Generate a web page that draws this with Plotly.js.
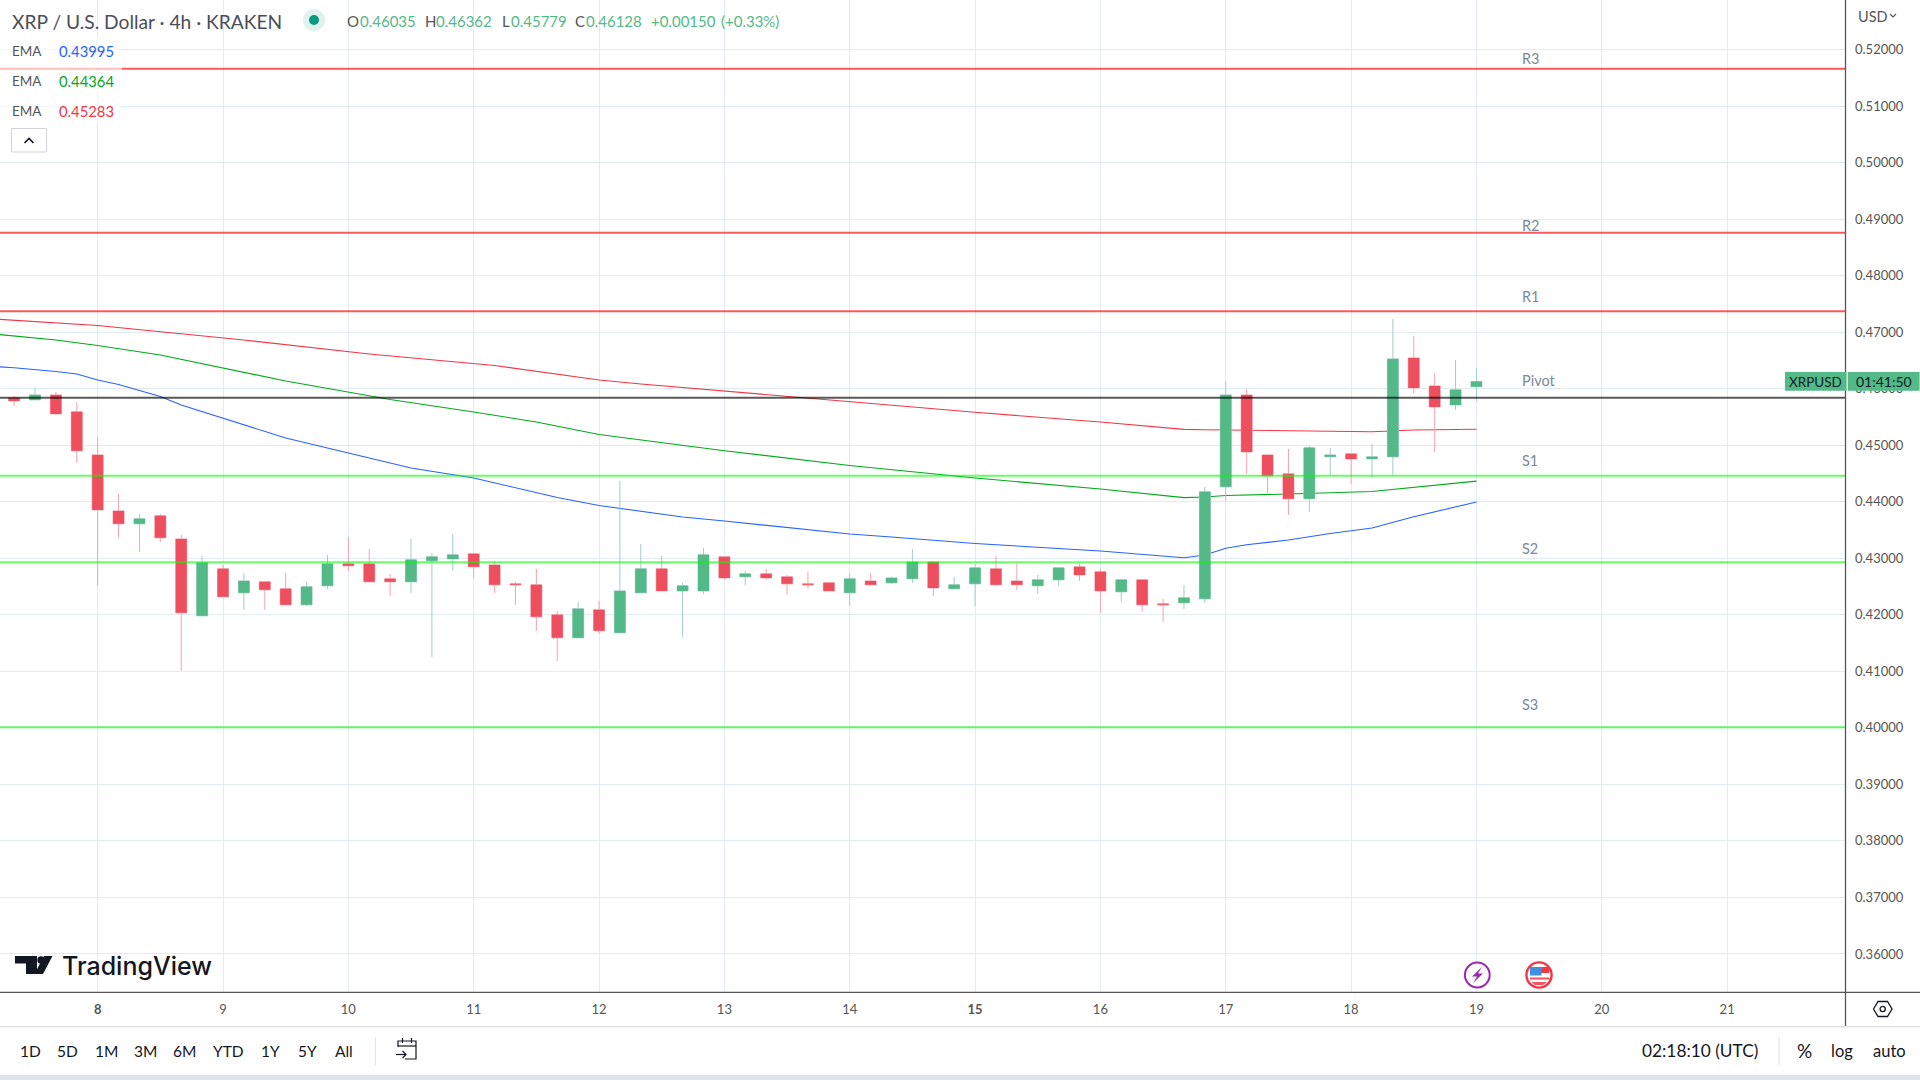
<!DOCTYPE html>
<html><head><meta charset="utf-8">
<script src="https://cdn.plot.ly/plotly-3.0.1.min.js"></script>
<style>html,body{margin:0;padding:0;background:#fff;overflow:hidden}#c{width:1920px;height:1080px}</style>
</head><body><div id="c"></div>
<script>
const times=["2023-06-07 08:00","2023-06-07 12:00","2023-06-07 16:00","2023-06-07 20:00",
"2023-06-08 00:00","2023-06-08 04:00","2023-06-08 08:00","2023-06-08 12:00","2023-06-08 16:00","2023-06-08 20:00",
"2023-06-09 00:00","2023-06-09 04:00","2023-06-09 08:00","2023-06-09 12:00","2023-06-09 16:00","2023-06-09 20:00",
"2023-06-10 00:00","2023-06-10 04:00","2023-06-10 08:00","2023-06-10 12:00","2023-06-10 16:00","2023-06-10 20:00",
"2023-06-11 00:00","2023-06-11 04:00","2023-06-11 08:00","2023-06-11 12:00","2023-06-11 16:00","2023-06-11 20:00",
"2023-06-12 00:00","2023-06-12 04:00","2023-06-12 08:00","2023-06-12 12:00","2023-06-12 16:00","2023-06-12 20:00",
"2023-06-13 00:00","2023-06-13 04:00","2023-06-13 08:00","2023-06-13 12:00","2023-06-13 16:00","2023-06-13 20:00",
"2023-06-14 00:00","2023-06-14 04:00","2023-06-14 08:00","2023-06-14 12:00","2023-06-14 16:00","2023-06-14 20:00",
"2023-06-15 00:00","2023-06-15 04:00","2023-06-15 08:00","2023-06-15 12:00","2023-06-15 16:00","2023-06-15 20:00",
"2023-06-16 00:00","2023-06-16 04:00","2023-06-16 08:00","2023-06-16 12:00","2023-06-16 16:00","2023-06-16 20:00",
"2023-06-17 00:00","2023-06-17 04:00","2023-06-17 08:00","2023-06-17 12:00","2023-06-17 16:00","2023-06-17 20:00",
"2023-06-18 00:00","2023-06-18 04:00","2023-06-18 08:00","2023-06-18 12:00","2023-06-18 16:00","2023-06-18 20:00",
"2023-06-19 00:00"];
const opens=[.45837,.45802,.45890,.45590,.44829,.43838,.43609,.43750,.43343,.41981,.42813,.42388,.42583,.42459,.42176,.42512,.42901,.42901,.42636,.42583,.42954,.42989,.43078,.42883,.42547,.42530,.41999,.41592,.42087,.41681,.42388,.42813,.42423,.42423,.43025,.42671,.42724,.42671,.42547,.42565,.42388,.42600,.42565,.42636,.42936,.42459,.42547,.42813,.42600,.42512,.42618,.42848,.42760,.42406,.42618,.42194,.42211,.42282,.44263,.45890,.44829,.44493,.44051,.44794,.44847,.44758,.44794,.46545,.46049,.45713,.46035];
const highs=[.45873,.46014,.45943,.45766,.45147,.44139,.43785,.43785,.43414,.43043,.42883,.42742,.42583,.42742,.42583,.43060,.43379,.43166,.42724,.43343,.43096,.43432,.43078,.42954,.42583,.42813,.42070,.42229,.42247,.44369,.43255,.43043,.42565,.43184,.43025,.42777,.42813,.42706,.42760,.42565,.42742,.42742,.42671,.43166,.42954,.42671,.42901,.43043,.42919,.42706,.42830,.42901,.42813,.42618,.42618,.42282,.42530,.44263,.46138,.45996,.44829,.44935,.44988,.44953,.44847,.45024,.47235,.46934,.46279,.46509,.46362];
const lows=[.45696,.45802,.45537,.44688,.42512,.43361,.43113,.43290,.41008,.41981,.42317,.42087,.42087,.42176,.42158,.42459,.42777,.42583,.42335,.42388,.41256,.42777,.42653,.42388,.42176,.41716,.41185,.41592,.41663,.41681,.42388,.42423,.41610,.42370,.42618,.42530,.42618,.42353,.42459,.42423,.42158,.42530,.42547,.42565,.42335,.42459,.42158,.42512,.42441,.42370,.42512,.42600,.42034,.42229,.42052,.41875,.42105,.42211,.44015,.44493,.44157,.43768,.43821,.44475,.44316,.44422,.44475,.45908,.44882,.45625,.45779];
const closes=[.45784,.45890,.45554,.44900,.43856,.43609,.43697,.43361,.42034,.42919,.42317,.42600,.42441,.42176,.42494,.42901,.42866,.42583,.42583,.42972,.43025,.43060,.42848,.42530,.42530,.41964,.41592,.42105,.41716,.42423,.42813,.42423,.42512,.43060,.42653,.42724,.42653,.42547,.42530,.42423,.42636,.42530,.42653,.42936,.42476,.42530,.42830,.42530,.42530,.42618,.42830,.42706,.42423,.42618,.42176,.42176,.42300,.44175,.45890,.44882,.44458,.44051,.44953,.44829,.44758,.44794,.46527,.46014,.45678,.45979,.46128];

const blueTimes=["2023-06-07 04:00","2023-06-07 08:00","2023-06-07 16:00","2023-06-07 20:00","2023-06-08 00:00","2023-06-08 04:00","2023-06-08 12:00","2023-06-08 16:00","2023-06-09 12:00","2023-06-10 12:00","2023-06-11 00:00","2023-06-11 16:00","2023-06-12 00:00","2023-06-12 16:00","2023-06-13 00:00","2023-06-14 00:00","2023-06-14 08:00","2023-06-15 00:00","2023-06-16 00:00","2023-06-16 04:00","2023-06-16 16:00","2023-06-16 20:00","2023-06-17 00:00","2023-06-17 04:00","2023-06-17 12:00","2023-06-17 20:00","2023-06-18 04:00","2023-06-18 12:00","2023-06-19 00:00"];
const blueEma=[.46392,.46371,.46304,.46260,.46154,.46074,.45862,.45711,.45128,.44597,.44420,.44075,.43933,.43730,.43659,.43429,.43376,.43261,.43129,.43102,.43010,.43058,.43176,.43240,.43323,.43438,.43535,.43735,.43995];
const greenTimes=["2023-06-07 04:00","2023-06-07 16:00","2023-06-08 00:00","2023-06-08 12:00","2023-06-09 12:00","2023-06-10 08:00","2023-06-11 00:00","2023-06-11 12:00","2023-06-12 00:00","2023-06-12 08:00","2023-06-13 00:00","2023-06-14 00:00","2023-06-15 00:00","2023-06-16 00:00","2023-06-16 16:00","2023-06-16 20:00","2023-06-17 00:00","2023-06-17 12:00","2023-06-18 04:00","2023-06-19 00:00"];
const greenEma=[.46967,.46861,.46764,.46596,.46136,.45809,.45587,.45411,.45189,.45092,.44903,.44641,.44420,.44225,.44072,.44084,.44110,.44137,.44181,.44364];
const redTimes=["2023-06-07 04:00","2023-06-08 00:00","2023-06-09 04:00","2023-06-10 04:00","2023-06-11 04:00","2023-06-12 00:00","2023-06-12 08:00","2023-06-13 00:00","2023-06-14 00:00","2023-06-15 00:00","2023-06-16 00:00","2023-06-16 16:00","2023-06-16 20:00","2023-06-17 12:00","2023-06-18 04:00","2023-06-18 12:00","2023-06-19 00:00"];
const redEma=[.47233,.47118,.46861,.46613,.46410,.46154,.46083,.45959,.45770,.45582,.45411,.45281,.45274,.45257,.45239,.45269,.45283];

const levelNames=["R3","R2","R1","Pivot","S1","S2","S3"];
const levelValues=[.5166,.4876,.4737,.4584,.4446,.4293,.4001];
const levelColors=["rgba(255,0,0,.65)","rgba(255,0,0,.65)","rgba(255,0,0,.65)","rgba(0,0,0,.65)","rgba(0,255,0,.6)","rgba(0,255,0,.6)","rgba(0,255,0,.6)"];
const levelLabelY=[58.5,225,296.7,380,460,548.7,704];

const dayTicks=["2023-06-08","2023-06-09","2023-06-10","2023-06-11","2023-06-12","2023-06-13","2023-06-14","2023-06-15","2023-06-16","2023-06-17","2023-06-18","2023-06-19","2023-06-20","2023-06-21"];
const dayLabels=["<b>8</b>","9","10","11","12","13","14","<b>15</b>","16","17","18","19","20","21"];
const priceTicks=[.36,.37,.38,.39,.40,.41,.42,.43,.44,.45,.46,.47,.48,.49,.50,.51,.52];

const FONT="Lato, 'Open Sans', sans-serif";
const W=1845,H=992;
const px=x=>x/1920, py=y=>(1080-y)/1080;
const xRange=["2023-06-07 05:18","2023-06-21 22:34"], yRange=[.35327,.52876];
const UP="#53b987",DN="#ee4f5f",UPW="#a2cbca",DNW="#f5a3ae";

const annos=[];
function txt(x,y,text,o={}){annos.push({xref:"paper",yref:"paper",x:px(x),y:py(y),text,showarrow:false,
  xanchor:o.a||"left",yanchor:"middle",borderpad:o.pad||0,
  font:{family:o.f||FONT,size:o.s||15,color:o.c||"#555",weight:o.wt},bgcolor:o.bg,width:o.w,height:o.h,align:o.al});}
const shapes=[];
function rect(x0,y0,x1,y1,fill,op,layer){shapes.push({type:"rect",xref:"paper",yref:"paper",x0:px(x0),x1:px(x1),y0:py(y0),y1:py(y1),fillcolor:fill,opacity:op==null?1:op,line:{width:0},layer:layer||"above"});}
function line(x0,y0,x1,y1,c,w){shapes.push({type:"line",xref:"paper",yref:"paper",x0:px(x0),x1:px(x1),y0:py(y0),y1:py(y1),line:{color:c,width:w||1},layer:"above"});}
function circ(cx,cy,r,fill,stroke,w,op){shapes.push({type:"circle",xref:"paper",yref:"paper",x0:px(cx-r),x1:px(cx+r),y0:py(cy+r),y1:py(cy-r),fillcolor:fill,opacity:op==null?1:op,line:{color:stroke||"rgba(0,0,0,0)",width:w||0},layer:"above"});}
function path(pts,fill,stroke,w,close){const d=pts.map((p,i)=>(i?"L":"M")+px(p[0])+","+py(p[1])).join(" ")+(close?" Z":"");
  shapes.push({type:"path",xref:"paper",yref:"paper",path:d,fillcolor:fill||"rgba(0,0,0,0)",line:{color:stroke||"rgba(0,0,0,0)",width:w||0},layer:"above"});}

// level lines from the data arrays
levelValues.forEach((v,i)=>{shapes.push({type:"line",xref:"paper",yref:"y",x0:0,x1:px(W),y0:v,y1:v,line:{color:levelColors[i],width:2},layer:"above"});
  txt(1521,levelLabelY[i],levelNames[i],{c:"#7b8a97",s:14.5});});

// legend backdrop
rect(0,37,122,122,"#fff",.6);

// frame lines
line(0,992.3,1920,992.3,"#555",1.3);
line(1845.5,0,1845.5,1026,"#555",1.3);
line(0,1026.7,1920,1026.7,"#e0e3eb",1.5);
rect(0,1075,1920,1080,"#e0e3eb");
line(375.5,1037,375.5,1065,"#e0e3eb",1);
line(1779,1037,1779,1065,"#e0e3eb",1);

// header legend
txt(11,21,"XRP / U.S. Dollar · 4h · KRAKEN",{s:19.2,c:"#4a4e59"});
circ(314,20,11,"#dff2ee");
circ(314,20,5,"#089981");
[[346,"O"],[423.5,"H"],[500.5,"L"],[574,"C"]].forEach(p=>txt(p[0],21,p[1],{c:"#555",s:15}));
[[358.7,"0.46035"],[435,"0.46362"],[510,"0.45779"],[585,"0.46128"],[649.5,"+0.00150"],[720,"(+0.33%)"]].forEach(p=>txt(p[0],21,p[1],{c:UP,s:15}));
[[50.7,"0.43995","#2962ff"],[81,"0.44364","#00aa1a"],[111,"0.45283","#f23645"]].forEach(r=>{txt(11,r[0],"EMA",{c:"#555",s:13.5});txt(57.7,r[0],r[1],{c:r[2],s:14.8});});
// collapse button
shapes.push({type:"rect",xref:"paper",yref:"paper",x0:px(11.5),x1:px(46.5),y0:py(152),y1:py(128.5),fillcolor:"#fff",line:{color:"#d1d4dc",width:1},layer:"above"});
path([[24.5,143],[29,138.5],[33.5,143]],null,"#131722",1.6);

// price axis extras
txt(1873,16,"USD",{a:"center",s:14.5,c:"#555"});
path([[1890,14],[1893,17],[1896,14]],null,"#555",1.1);
rect(1785,372,1846.5,390.7,UP);
rect(1847.7,372,1919.6,390.7,UP);
txt(1815.5,381.5,"XRPUSD",{a:"center",s:13.5,c:"#10202a"});
txt(1883.5,381.5,"01:41:50",{a:"center",s:14,c:"#10202a"});

// logo
path([[15,956],[37,956],[37,974],[26,974],[26,963.5],[15,963.5]],"#131722",null,0,true);
circ(41,960,3.7,"#131722");
path([[44,956],[52.5,956],[43,974],[34.5,974]],"#131722",null,0,true);
txt(61,966,"TradingView",{f:"Inter, Lato, sans-serif",s:25,c:"#131722",wt:500});

// event badges
circ(1477.3,975,12.4,"#fff","#9c27b0",2);
path([[1482,967],[1472,976.5],[1477,976.5],[1473,983],[1483,973.5],[1478,973.5]],"#9c27b0",null,0,true);
circ(1539,975,12.6,"#fff","#f23645",2.4);
path([[1530,967],[1550,967],[1549,973],[1530,973]],"#f23645",null,0,true);
rect(1530,967,1541.5,975.5,"#3d8fe0");
rect(1530,977.5,1549.5,979.5,"#f7525f");
path([[1531.5,982],[1547,982],[1543,985],[1535,985]],"#f7525f",null,0,true);

// time axis settings icon
path([[1873.5,1009],[1878,1001.5],[1887.5,1001.5],[1892,1009],[1887.5,1016.5],[1878,1016.5]],null,"#131722",1.3,true);
circ(1882.7,1009,2.6,"#fff","#131722",1.3);

// bottom bar
[[30,"1D"],[67.8,"5D"],[106,"1M"],[145,"3M"],[184,"6M"],[228,"YTD"],[270,"1Y"],[307,"5Y"],[344,"All"]].forEach(p=>txt(p[0],1050.7,p[1],{a:"center",s:15.5,c:"#131722"}));
txt(1641,1050.7,"02:18:10 (UTC)",{s:17.3,c:"#131722"});
[[1804,"%",19],[1842,"log",16.5],[1889,"auto",16.5]].forEach(p=>txt(p[0],1050.7,p[1],{a:"center",s:p[2],c:"#131722"}));
// calendar icon
path([[398,1047],[398,1041],[416,1041],[416,1059],[405,1059]],null,"#131722",1.2);
line(398,1046,416,1046,"#131722",1.2);
line(402.5,1038,402.5,1043,"#131722",1.2);
line(411.5,1038,411.5,1043,"#131722",1.2);
path([[396,1054.5],[406,1054.5]],null,"#131722",1.2);
path([[402.5,1051],[406,1054.5],[402.5,1058]],null,"#131722",1.2);

const ema=(x,y,c)=>({type:"scatter",mode:"lines",x,y,xaxis:"x",yaxis:"y",line:{color:c,width:1.1},hoverinfo:"skip"});
const wicks={type:"candlestick",x:times,open:opens,high:highs,low:lows,close:closes,xaxis:"x2",yaxis:"y2",
  increasing:{line:{color:UPW,width:1},fillcolor:UPW},decreasing:{line:{color:DNW,width:1},fillcolor:DNW},hoverinfo:"skip"};
const bodies={type:"candlestick",x:times,open:opens,close:closes,
  high:opens.map((o,i)=>Math.max(o,closes[i])),low:opens.map((o,i)=>Math.min(o,closes[i])),xaxis:"x2",yaxis:"y2",
  increasing:{line:{color:UP,width:0},fillcolor:UP},decreasing:{line:{color:DN,width:0},fillcolor:DN},hoverinfo:"skip"};

const layout={width:1920,height:1080,margin:{l:0,r:0,t:0,b:0},paper_bgcolor:"#fff",plot_bgcolor:"#fff",showlegend:false,dragmode:false,boxgap:.25,boxmode:"overlay",
  xaxis:{type:"date",domain:[0,W/1920],range:xRange,tickmode:"array",tickvals:dayTicks,ticktext:dayLabels,showgrid:true,gridcolor:"#e1ecf2",gridwidth:1,
    zeroline:false,showline:false,ticks:"",ticklabelstandoff:8,tickfont:{family:FONT,size:13,color:"#555"},anchor:"y"},
  yaxis:{domain:[(1080-H)/1080,1],range:yRange,side:"right",anchor:"x",tickmode:"array",tickvals:priceTicks,tickformat:".5f",showgrid:true,gridcolor:"#e1ecf2",gridwidth:1,
    zeroline:false,showline:false,ticks:"",ticklabelstandoff:9,tickfont:{family:FONT,size:13,color:"#555"}},
  xaxis2:{type:"date",overlaying:"x",range:xRange,visible:false,rangeslider:{visible:false},anchor:"y2",domain:[0,W/1920]},
  yaxis2:{overlaying:"y",range:yRange,visible:false,anchor:"x2",domain:[(1080-H)/1080,1]},
  shapes,annotations:annos};
Plotly.newPlot("c",[ema(blueTimes,blueEma,"#2962ff"),ema(greenTimes,greenEma,"#00aa1a"),ema(redTimes,redEma,"#f23645"),wicks,bodies],layout,{displayModeBar:false,staticPlot:true});
</script></body></html>
